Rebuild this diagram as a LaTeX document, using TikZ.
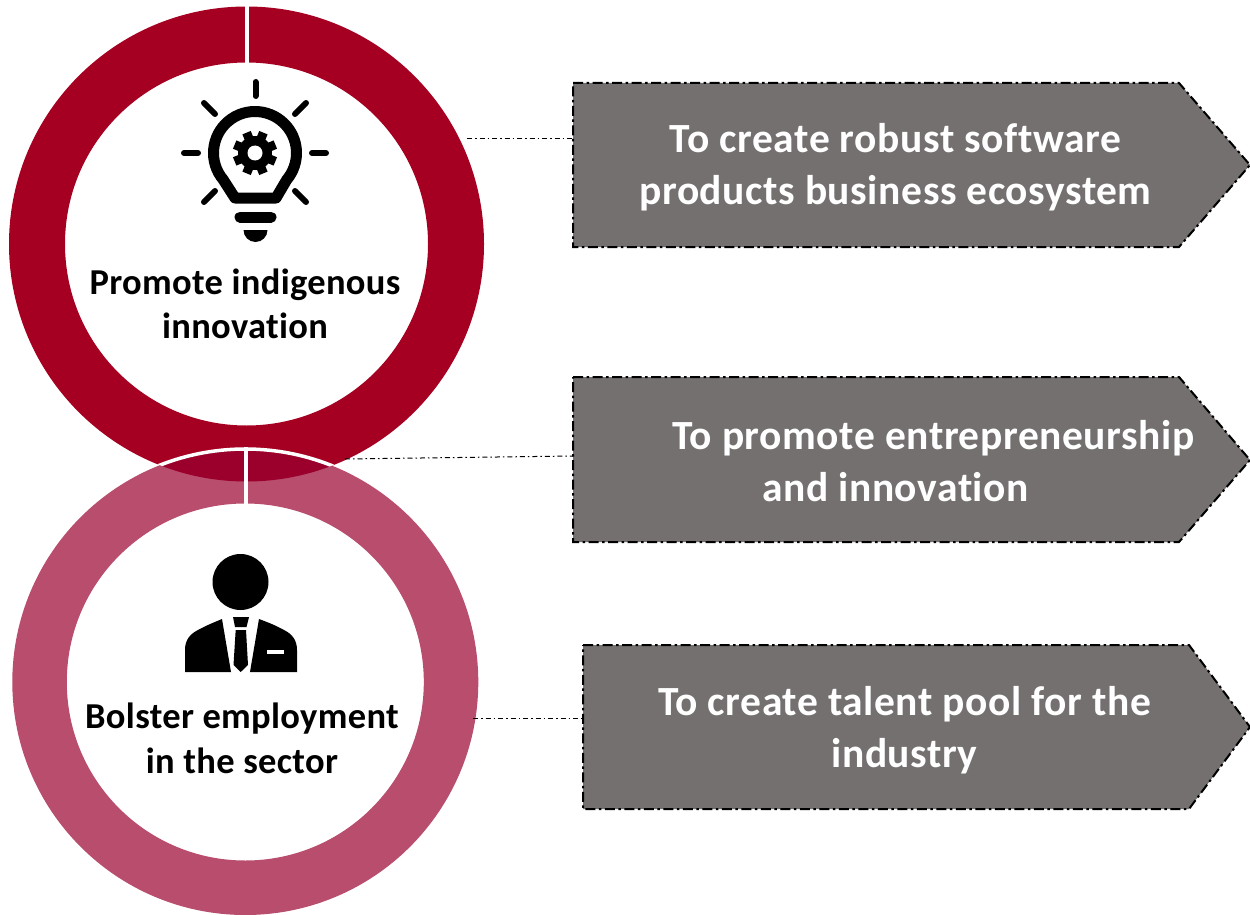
\documentclass[tikz,border=0pt]{standalone}
\usepackage{fontspec}
\setmainfont{Carlito}
\newfontfamily\goalfont[LetterSpace=1.4,Ligatures=NoCommon]{Carlito}
\newfontfamily\ringfont[LetterSpace=0.9,Ligatures=NoCommon]{Carlito}
\definecolor{ringA}{HTML}{A50021}
\definecolor{ringB}{HTML}{B84D6E}
\definecolor{ringAB}{HTML}{9B002D}
\definecolor{boxgrey}{HTML}{747070}
\tikzset{
  goalbox/.style={fill=boxgrey,draw=black,line width=2pt,line join=miter,dash pattern=on 10pt off 3.5pt on 2.5pt off 3.5pt},
  goaltext/.style={text=white,font=\goalfont\fontsize{41.5}{52}\selectfont\bfseries,inner sep=0pt},
  ringtext/.style={text=black,font=\ringfont\fontsize{36.5}{44.5}\selectfont\bfseries,inner sep=0pt,align=center},
  link/.style={draw=black,line width=1pt,dash pattern=on 5pt off 3pt on 1.5pt off 3pt},
  ray/.style={draw=black,line width=6pt,line cap=round},
  slit/.style={draw=white,line width=4pt}
}
\begin{document}
\begin{tikzpicture}[x=1pt,y=-1pt]
\useasboundingbox (0,0) rectangle (1250,915);
% rings
\coordinate (cA) at (246.5,244);
\coordinate (cB) at (245.3,682);
\fill[ringA,even odd rule] (cA) circle[radius=237.5] (cA) circle[radius=181.5];
\fill[ringB,even odd rule] (cB) circle[radius=233] (cB) circle[radius=178.5];
\begin{scope}
  \clip (cA) circle[radius=237.5];
  \fill[ringAB] (cB) circle[radius=233];
  \draw[white,line width=3.5pt] (cB) circle[radius=233];
\end{scope}
\draw[slit] (246.5,5) -- (246.5,64);
\draw[slit] (245.7,447) -- (245.7,506);
% bulb icon
\begin{scope}
  \draw[black,line width=11pt,line join=round] (255,153) ++(140:41.5) arc[start angle=140,end angle=400,radius=41.5] -- (276,198) -- (235,198) -- cycle;
  \draw[ray] (255.5,82) -- (255.5,96);
  \draw[ray] (184,153) -- (198,153);
  \draw[ray] (312,153) -- (326,153);
  \draw[ray] (204,103) -- (215,114);
  \draw[ray] (306,103) -- (295,114);
  \draw[ray] (204,202) -- (215,191);
  \draw[ray] (306,202) -- (295,191);
  \draw[black,line width=11pt,line cap=round] (240,217) -- (271,217);
  \fill[black] (243.5,230) -- (267.5,230) arc[start angle=0,end angle=180,radius=12] -- cycle;
  \fill[black] (255,153) circle[radius=17];
  \foreach \a in {0,45,...,315}{
    \fill[black,rotate around={\a+22.5:(255,153)}] (250.5,131) rectangle (259.5,142);
  }
  \fill[white] (255,153) circle[radius=7.5];
\end{scope}
% person icon
\fill[black] (240.5,582) circle[radius=28];
\fill[black] (185,672) -- (185,650) .. controls (185,640) and (190,634) .. (198,630) .. controls (207,625) and (215,622) .. (222,619) -- (231,672) -- cycle;
\fill[black] (297,672) -- (297,650) .. controls (297,640) and (292,634) .. (284,630) .. controls (275,625) and (267,622) .. (259,619) -- (250,672) -- cycle;
\fill[black] (233,617) -- (249,617) -- (246.5,627) -- (235,627) -- cycle;
\fill[black] (235.7,630) -- (246,630) -- (248,665) -- (240.7,672) -- (233.5,665) -- cycle;
\fill[white] (267,650) rectangle (284,653.5);
% goal boxes
\draw[goalbox] (573,83) -- (1179,83) -- (1250,165) -- (1179,247) -- (573,247) -- cycle;
\draw[goalbox] (573,377) -- (1179,377) -- (1250,460) -- (1179,542) -- (573,542) -- cycle;
\draw[goalbox] (583,645) -- (1189,645) -- (1250,727) -- (1189,809) -- (583,809) -- cycle;
% texts
\node[ringtext] (promote) at (245,304) {Promote indigenous\\innovation};
\node[ringtext] (bolster) at (242,738.5) {Bolster employment\\in the sector};
\node[goaltext,align=center] (robust) at (895.5,167.5) {To create robust software\\products business ecosystem};
\node[goaltext,align=left,anchor=west] (entre) at (672,461) {To promote entrepreneurship\\\hspace*{90pt}and innovation};
\node[goaltext,align=center] (talent) at (904.5,730.5) {To create talent pool for the\\industry};
% connectors
\coordinate (aL) at (467,139); \coordinate (aR) at (573,139);
\coordinate (bL) at (345,459); \coordinate (bR) at (573,456);
\coordinate (cL) at (473,718); \coordinate (cR) at (583,718);
\draw[link] (aL) -- (aR);
\draw[link] (bL) -- (bR);
\draw[link] (cL) -- (cR);
\end{tikzpicture}
\end{document}
